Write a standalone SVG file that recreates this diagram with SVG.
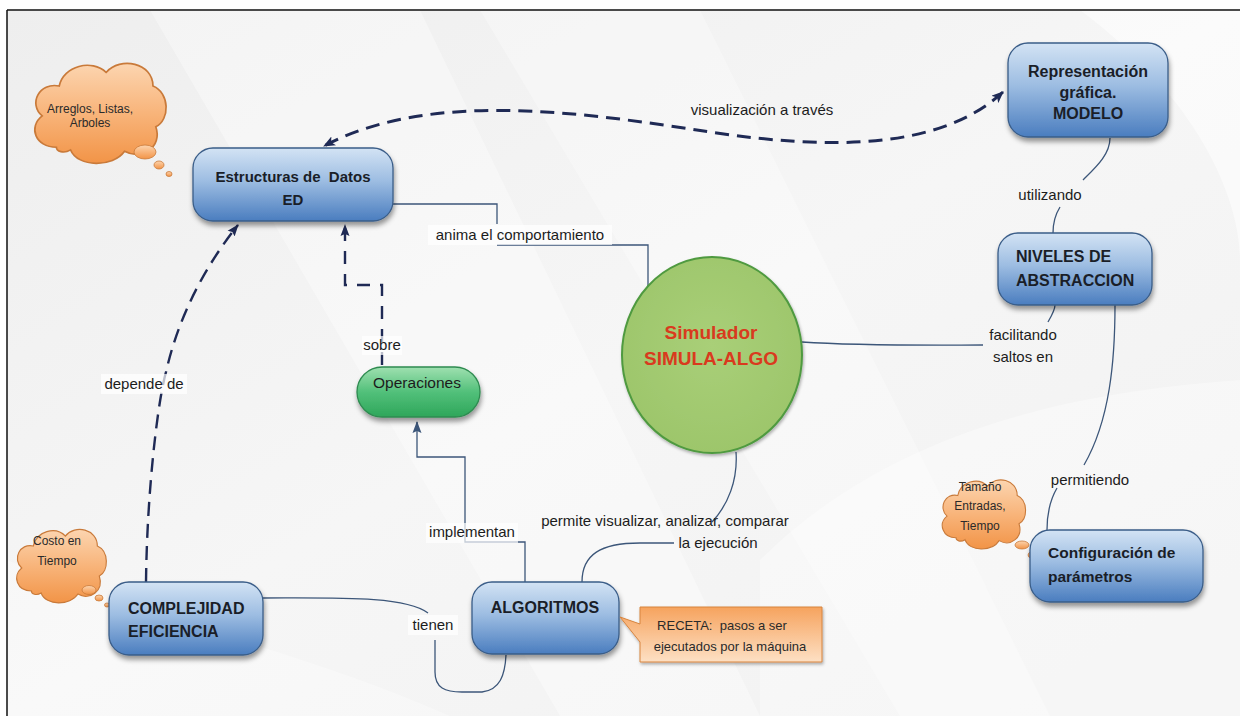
<svg xmlns="http://www.w3.org/2000/svg" width="1240" height="716" viewBox="0 0 1240 716">
<defs>
<linearGradient id="bg" x1="0" y1="0" x2="1" y2="1">
<stop offset="0" stop-color="#eeeeee"/><stop offset="0.5" stop-color="#f6f6f6"/><stop offset="1" stop-color="#f1f1f1"/>
</linearGradient>
<linearGradient id="blue" x1="0" y1="0" x2="0" y2="1">
<stop offset="0" stop-color="#d3e3f4"/><stop offset="0.45" stop-color="#9dbde2"/><stop offset="1" stop-color="#4a7dbf"/>
</linearGradient>
<linearGradient id="green" x1="0" y1="0" x2="0" y2="1">
<stop offset="0" stop-color="#9fe0b0"/><stop offset="0.5" stop-color="#52c07a"/><stop offset="1" stop-color="#2ea65a"/>
</linearGradient>
<radialGradient id="circ" cx="0.5" cy="0.45" r="0.6">
<stop offset="0" stop-color="#a9cf78"/><stop offset="1" stop-color="#9cc56a"/>
</radialGradient>
<linearGradient id="orange" x1="0" y1="0" x2="0" y2="1">
<stop offset="0" stop-color="#fcd5b0"/><stop offset="0.5" stop-color="#f8b47a"/><stop offset="1" stop-color="#f29447"/>
</linearGradient>
<linearGradient id="orange2" x1="0" y1="0" x2="0" y2="1">
<stop offset="0" stop-color="#f6a35e"/><stop offset="1" stop-color="#fde0c4"/>
</linearGradient>
<filter id="sh" x="-20%" y="-20%" width="140%" height="150%">
<feDropShadow dx="1" dy="4" stdDeviation="2.5" flood-color="#000" flood-opacity="0.4"/>
</filter>
<filter id="shs" x="-20%" y="-20%" width="140%" height="150%">
<feDropShadow dx="1" dy="2" stdDeviation="1.5" flood-color="#000" flood-opacity="0.3"/>
</filter>
<marker id="arrN" viewBox="0 0 12 10" refX="11" refY="5" markerWidth="12" markerHeight="10" markerUnits="userSpaceOnUse" orient="auto-start-reverse">
<path d="M0,0 L12,5 L0,10 L3,5 Z" fill="#1f2a55"/>
</marker>
<marker id="arrT" viewBox="0 0 12 10" refX="11" refY="5" markerWidth="12" markerHeight="10" markerUnits="userSpaceOnUse" orient="auto">
<path d="M0,0.5 L12,5 L0,9.5 L2,5 Z" fill="#1f2a55"/>
</marker>
<marker id="arrS" viewBox="0 0 12 10" refX="11" refY="5" markerWidth="12" markerHeight="10" markerUnits="userSpaceOnUse" orient="auto">
<path d="M0,0.5 L12,5 L0,9.5 L2,5 Z" fill="#3c5679"/>
</marker>
<path id="cloud" d="M20,70 C5,70 0,55 10,47 C0,38 8,22 22,25 C25,10 45,5 55,15 C65,3 88,8 88,25 C100,30 100,50 90,55 C95,70 80,80 68,73 C60,85 35,85 30,72 C25,75 20,73 20,70 Z"/>
<style>
.node{fill:url(#blue);stroke:#3a5d88;stroke-width:1.3;filter:url(#sh)}
.nt{font-family:"Liberation Sans",Arial,sans-serif;font-weight:bold;font-size:16px;fill:#1a1e28}
.lbl{font-family:"Liberation Sans",Arial,sans-serif;font-size:15px;fill:#1c1c1c}
.sm{font-family:"Liberation Sans",Arial,sans-serif;font-size:12px;fill:#2a2a2a}
.lbg{fill:#ffffff;opacity:0.7}
.sol{fill:none;stroke:#3c5679;stroke-width:1.3}
.dsh{fill:none;stroke:#1f2a55;stroke-width:2.6;stroke-dasharray:14 8}
.cl{fill:url(#orange);stroke:#c97a3a;stroke-width:1.2}
.bub{fill:url(#orange);stroke:#c97a3a;stroke-width:0.8}
.red{fill:#d93a1e;font-size:19px}
</style>
</defs>

<rect x="0" y="0" width="1240" height="716" fill="#ffffff"/>
<rect x="7" y="10" width="1233" height="706" fill="url(#bg)"/>
<path d="M150,10 L420,10 L760,716 L560,716 Z" fill="#ffffff" opacity="0.35"/>
<path d="M480,10 L700,10 L1050,716 L900,716 Z" fill="#ffffff" opacity="0.3"/>
<path d="M1080,10 C1200,100 1240,200 1240,260 L1240,10 Z" fill="#ffffff" opacity="0.5"/>
<path d="M760,560 C900,420 1100,390 1240,380 L1240,716 L760,716 Z" fill="#ffffff" opacity="0.35"/>
<path d="M7,716 L7,560 C150,620 300,650 450,716 Z" fill="#ffffff" opacity="0.3"/>
<path d="M7,10 H1240 M7,10 V716" fill="none" stroke="#111" stroke-width="1.5"/>

<g id="connectors">
<path class="dsh" d="M1003,92 C940,150 830,150 710,132 C580,112 430,90 324,146" marker-start="url(#arrN)" marker-end="url(#arrN)" style="stroke-width:3"/>
<path class="sol" d="M393,204 H497 V224"/>
<path class="sol" d="M497,245 H648 V287"/>
<path class="dsh" d="M382,365 V285 H345 V225" style="stroke-width:2.4;stroke-dasharray:13 10" marker-end="url(#arrT)"/>
<path class="sol" d="M525,582 V542 H465 V457 H417 V422" marker-end="url(#arrS)"/>
<path class="sol" d="M736,452 C738,480 728,505 712,522"/>
<path class="sol" d="M582,582 C582,555 600,543 640,543 H674"/>
<path class="sol" d="M263,598 C340,598 405,596 428,613"/>
<path class="sol" d="M435,640 V672 C435,688 445,692 462,692 H482 C500,690 505,675 506,655"/>
<path class="dsh" d="M146,582 C147,490 158,400 166,372 C180,310 210,260 238,225" style="stroke-width:2.4" marker-end="url(#arrT)"/>
<path class="sol" d="M802,342 C860,346 940,345 983,345"/>
<path class="sol" d="M1048,322 C1052,315 1055,310 1055,305"/>
<path class="sol" d="M1115,305 C1115,360 1110,420 1084,465"/>
<path class="sol" d="M1057,488 C1050,500 1047,515 1047,530"/>
<path class="sol" d="M1110,138 C1110,155 1095,168 1083,180"/>
<path class="sol" d="M1060,207 C1055,215 1053,225 1053,233"/>
</g>

<g id="labels">
<text class="lbl" x="762" y="115" text-anchor="middle">visualización a través</text>
<rect class="lbg" x="428" y="225" width="184" height="20"/>
<text class="lbl" x="520" y="240" text-anchor="middle">anima el comportamiento</text>
<rect class="lbg" x="362" y="336" width="40" height="19"/>
<text class="lbl" x="382" y="350" text-anchor="middle">sobre</text>
<rect class="lbg" x="101" y="374" width="86" height="20"/>
<text class="lbl" x="144" y="389" text-anchor="middle">depende de</text>
<rect class="lbg" x="426" y="523" width="92" height="20"/>
<text class="lbl" x="472" y="537" text-anchor="middle">implementan</text>
<text class="lbl" x="665" y="526" text-anchor="middle">permite visualizar, analizar, comparar</text>
<text class="lbl" x="718" y="548" text-anchor="middle">la ejecución</text>
<rect class="lbg" x="408" y="615" width="50" height="20"/>
<text class="lbl" x="433" y="630" text-anchor="middle">tienen</text>
<text class="lbl" x="1023" y="340" text-anchor="middle">facilitando</text>
<text class="lbl" x="1023" y="362" text-anchor="middle">saltos en</text>
<text class="lbl" x="1090" y="485" text-anchor="middle">permitiendo</text>
<text class="lbl" x="1050" y="200" text-anchor="middle">utilizando</text>
</g>

<g id="cloud-arreglos">
<use href="#cloud" class="cl" transform="translate(28,52) scale(1.42,1.36)"/>
<ellipse class="bub" cx="145" cy="152" rx="11" ry="7"/>
<ellipse class="bub" cx="159" cy="165" rx="5" ry="4"/>
<ellipse class="bub" cx="169" cy="174" rx="3" ry="2.5"/>
<text class="sm" x="90" y="113" text-anchor="middle">Arreglos, Listas,</text>
<text class="sm" x="90" y="127" text-anchor="middle">Arboles</text>
</g>

<g id="cloud-costo">
<use href="#cloud" class="cl" transform="translate(12,521) scale(0.97,1.0)"/>
<ellipse class="bub" cx="89" cy="590" rx="7" ry="4.5"/>
<ellipse class="bub" cx="99" cy="598" rx="4" ry="3"/>
<ellipse class="bub" cx="107" cy="605" rx="2.5" ry="2"/>
<text class="sm" x="57" y="545" text-anchor="middle">Costo en</text>
<text class="sm" x="57" y="565" text-anchor="middle">Tiempo</text>
</g>

<g id="cloud-tamano">
<use href="#cloud" class="cl" transform="translate(938,472) scale(0.9,0.94)"/>
<ellipse class="bub" cx="1022" cy="545" rx="7" ry="4"/>
<ellipse class="bub" cx="1032" cy="555" rx="4" ry="3"/>
<ellipse class="bub" cx="1040" cy="562" rx="2.5" ry="2"/>
<text class="sm" x="980" y="491" text-anchor="middle">Tamaño</text>
<text class="sm" x="980" y="510" text-anchor="middle">Entradas,</text>
<text class="sm" x="980" y="530" text-anchor="middle">Tiempo</text>
</g>

<g id="node-ed">
<rect class="node" x="193" y="148" width="200" height="73" rx="20"/>
<text class="nt" x="293" y="182" text-anchor="middle" style="font-size:15px">Estructuras de&#160; Datos</text>
<text class="nt" x="293" y="205" text-anchor="middle" style="font-size:15px">ED</text>
</g>

<g id="node-modelo">
<rect class="node" x="1008" y="43" width="160" height="94" rx="20"/>
<text class="nt" x="1088" y="77" text-anchor="middle">Representación</text>
<text class="nt" x="1088" y="98" text-anchor="middle">gráfica.</text>
<text class="nt" x="1088" y="119" text-anchor="middle">MODELO</text>
</g>

<g id="node-niveles">
<rect class="node" x="998" y="233" width="154" height="72" rx="20"/>
<text class="nt" x="1016" y="262">NIVELES DE</text>
<text class="nt" x="1016" y="286">ABSTRACCION</text>
</g>

<g id="node-simulador">
<ellipse cx="712" cy="355" rx="90" ry="98" fill="url(#circ)" stroke="#4f9a40" stroke-width="2" filter="url(#shs)"/>
<text class="nt red" x="711" y="339" text-anchor="middle">Simulador</text>
<text class="nt red" x="711" y="365" text-anchor="middle">SIMULA-ALGO</text>
</g>

<g id="node-operaciones">
<rect x="357" y="367" width="123" height="50" rx="25" fill="url(#green)" stroke="#2e8b50" stroke-width="1.3" filter="url(#sh)"/>
<text class="lbl" x="417" y="388" text-anchor="middle" style="font-size:15.5px">Operaciones</text>
</g>

<g id="node-complejidad">
<rect class="node" x="109" y="582" width="154" height="73" rx="20"/>
<text class="nt" x="128" y="614">COMPLEJIDAD</text>
<text class="nt" x="128" y="637">EFICIENCIA</text>
</g>

<g id="node-algoritmos">
<rect class="node" x="472" y="582" width="147" height="72" rx="20"/>
<text class="nt" x="545" y="613" text-anchor="middle">ALGORITMOS</text>
</g>

<g id="callout-receta">
<path d="M640,607 H822 V662 H640 V642 L620,617 L640,624 Z" fill="url(#orange2)" stroke="#d7843e" stroke-width="1" filter="url(#shs)"/>
<text class="sm" x="722" y="630" text-anchor="middle" style="font-size:13px" xml:space="preserve">RECETA:  pasos a ser</text>
<text class="sm" x="730" y="651" text-anchor="middle" style="font-size:13px">ejecutados por la máquina</text>
</g>

<g id="node-config">
<rect class="node" x="1030" y="530" width="173" height="72" rx="20"/>
<text class="nt" x="1048" y="558" style="font-size:15.5px">Configuración de</text>
<text class="nt" x="1048" y="582" style="font-size:15.5px">parámetros</text>
</g>
</svg>
